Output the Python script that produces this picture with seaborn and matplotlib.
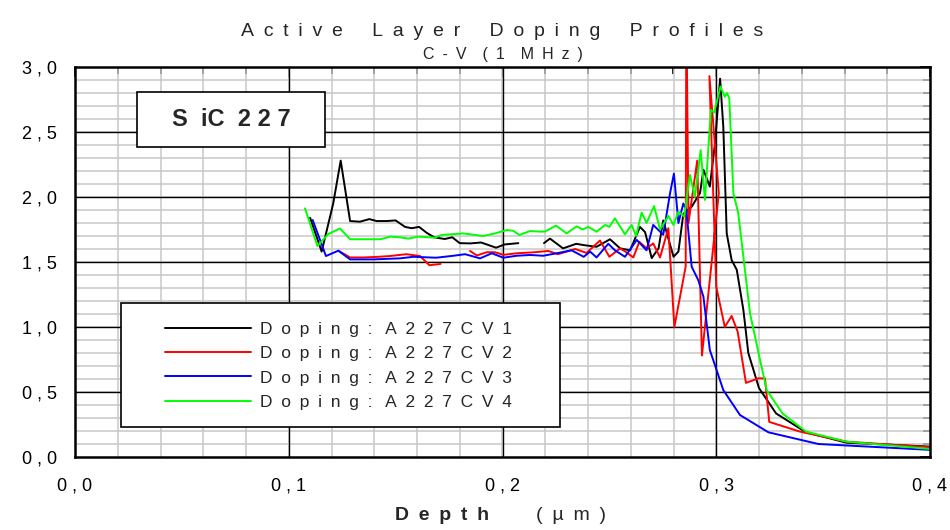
import numpy as np
import pandas as pd
import matplotlib
matplotlib.use("Agg")
import matplotlib.pyplot as plt
from matplotlib.patches import Rectangle
from matplotlib.lines import Line2D
from matplotlib.ticker import MultipleLocator, FixedLocator, FixedFormatter
import seaborn as sns

# ---- doping profiles: depth (um) and doping (arb. units) ----
depth_cv1 = [0.110, 0.1154, 0.1208, 0.1243, 0.1287, 0.1333, 0.1377, 0.1411, 0.1458, 0.1500,
             0.1544, 0.1575, 0.1610, 0.1645, 0.1680, 0.1730, 0.1765, 0.1800, 0.1850, 0.1900,
             0.1970, 0.2010, 0.2074, np.nan, 0.2194, 0.2222, 0.2283, 0.2310, 0.2345, 0.2380,
             0.2440, 0.2503, 0.2550, 0.2597, 0.2643, 0.2667, 0.2698, 0.2730, 0.2752, 0.2800,
             0.2823, 0.2846, 0.2885, 0.2924, 0.2940, 0.2970, 0.2994, 0.3018, 0.3033, 0.3049,
             0.3072, 0.3096, 0.3127, 0.3150, 0.3200, 0.3280, 0.3420, 0.3610, 0.4000]
doping_cv1 = [1.84, 1.58, 1.95, 2.28, 1.815, 1.81, 1.83, 1.815, 1.815, 1.82,
              1.77, 1.76, 1.77, 1.725, 1.69, 1.677, 1.69, 1.645, 1.643, 1.65,
              1.61, 1.635, 1.645, np.nan, 1.645, 1.68, 1.605, 1.62, 1.64, 1.63,
              1.617, 1.675, 1.605, 1.59, 1.77, 1.73, 1.53, 1.605, 1.82, 1.54,
              1.58, 1.87, 1.925, 2.03, 2.21, 2.08, 2.41, 2.91, 2.54, 1.72,
              1.515, 1.44, 1.13, 0.80, 0.53, 0.335, 0.19, 0.11, 0.08]

depth_cv2 = [0.1232, 0.1287, 0.1350, 0.1420, 0.1474, 0.1550, 0.1614, 0.1658, 0.1710, np.nan,
             0.1848, 0.1880, 0.1926, 0.1965, 0.2004, 0.2066, 0.2150, 0.2214, 0.2260, 0.2340,
             0.2393, 0.2456, 0.2500, 0.2550, 0.2575, 0.2612, 0.2640, 0.2674, 0.2705, 0.2737,
             0.2776, 0.2804, 0.2857, 0.2860, 0.2870, 0.2911, 0.2933, 0.3012, 0.2968, 0.3000,
             0.3040, 0.3072, 0.3100, 0.3139, 0.3197, 0.3228, 0.3248, 0.3392, 0.3610, 0.4000]
doping_cv2 = [1.587, 1.535, 1.535, 1.54, 1.546, 1.56, 1.546, 1.475, 1.485, np.nan,
              1.585, 1.55, 1.575, 1.575, 1.555, 1.567, 1.575, 1.585, 1.56, 1.60,
              1.57, 1.665, 1.54, 1.605, 1.58, 1.535, 1.655, 1.605, 1.643, 1.535,
              1.76, 1.00, 1.465, 3.50, 1.80, 2.28, 0.78, 2.03, 2.93, 1.31,
              1.00, 1.085, 0.965, 0.57, 0.605, 0.605, 0.27, 0.195, 0.118, 0.075]

depth_cv3 = [0.1112, 0.1174, 0.1232, 0.1287, 0.1396, 0.1520, 0.1583, 0.1660, 0.1690, 0.1770,
             0.1825, 0.1895, 0.1950, 0.2004, 0.2066, 0.2129, 0.2190, 0.2253, 0.2323, 0.2380,
             0.2410, 0.2440, 0.2495, 0.2526, 0.2573, 0.2628, 0.2674, 0.2705, 0.2752, 0.2784,
             0.2802, 0.2823, 0.2846, 0.2860, 0.2885, 0.2916, 0.2940, 0.2970, 0.3033, 0.3111,
             0.3244, 0.3478, 0.4000]
doping_cv3 = [1.823, 1.546, 1.587, 1.52, 1.52, 1.528, 1.54, 1.535, 1.533, 1.548,
              1.56, 1.528, 1.567, 1.533, 1.548, 1.554, 1.548, 1.567, 1.59, 1.54,
              1.58, 1.535, 1.64, 1.59, 1.54, 1.67, 1.59, 1.785, 1.71, 2.03,
              2.18, 1.80, 1.95, 1.90, 1.464, 1.36, 1.233, 0.823, 0.515, 0.323,
              0.19, 0.10, 0.055]

depth_cv4 = [0.1076, 0.1134, 0.1185, 0.1240, 0.1287, 0.1380, 0.1430, 0.1474, 0.1520, 0.1560,
             0.1606, 0.1684, 0.1715, 0.1817, 0.1910, 0.1965, 0.2020, 0.2050, 0.2079, 0.2129,
             0.2183, 0.2200, 0.2250, 0.2300, 0.2347, 0.2375, 0.2402, 0.2440, 0.2480, 0.2500,
             0.2526, 0.2573, 0.2604, 0.2625, 0.2651, 0.2674, 0.2709, 0.2737, 0.2776, 0.2800,
             0.2823, 0.2850, 0.2877, 0.2900, 0.2927, 0.2947, 0.2975, 0.2990, 0.3020, 0.3040,
             0.3050, 0.3061, 0.3080, 0.3103, 0.3158, 0.3205, 0.3236, 0.3310, 0.3420, 0.3610,
             0.4000]
doping_cv4 = [1.913, 1.623, 1.715, 1.758, 1.675, 1.675, 1.675, 1.695, 1.69, 1.68,
              1.695, 1.687, 1.708, 1.72, 1.70, 1.72, 1.746, 1.74, 1.708, 1.738,
              1.733, 1.735, 1.78, 1.72, 1.774, 1.75, 1.77, 1.733, 1.785, 1.77,
              1.836, 1.713, 1.785, 1.70, 1.88, 1.80, 1.93, 1.75, 1.854, 1.785,
              1.887, 1.85, 2.17, 2.0, 2.36, 1.977, 2.67, 2.65, 2.85, 2.77,
              2.80, 2.76, 2.03, 1.875, 1.105, 0.746, 0.515, 0.335, 0.195, 0.118,
              0.062]

series_labels = ["Doping: A227CV1", "Doping: A227CV2", "Doping: A227CV3", "Doping: A227CV4"]
series_colors = ["#000000", "#ff0000", "#0000ff", "#00ff00"]

x_ticks = [0.0, 0.1, 0.2, 0.3, 0.4]
x_tick_labels = ["0 , 0", "0 , 1", "0 , 2", "0 , 3", "0 , 4"]
y_ticks = [0.0, 0.5, 1.0, 1.5, 2.0, 2.5, 3.0]
y_tick_labels = ["0 , 0", "0 , 5", "1 , 0", "1 , 5", "2 , 0", "2 , 5", "3 , 0"]

title_text = "Active Layer Doping Profiles"
subtitle_text = "C-V (1 MHz)"
sample_text = "S  iC  2 2 7"
xlabel_bold = "Depth"
xlabel_unit = "(\u00b5m)"

EN = "\u2002"


def spaced(text, word_gap=EN * 3):
    """Letter-spaced text: en spaces between letters, wider gaps between words."""
    return word_gap.join(EN.join(w) for w in text.split(" "))


sns.set_theme(style="white")
plt.rcParams["font.family"] = ["Liberation Sans", "DejaVu Sans"]


def to_frame(depth, doping):
    d = pd.DataFrame({"depth": depth, "doping": doping})
    d["seg"] = d["depth"].isna().cumsum()
    return d.dropna()


fig = plt.figure(figsize=(9.5, 5.3), dpi=100)
ax = fig.add_axes([75 / 950, 73 / 530, 855 / 950, 390 / 530])

series = [(depth_cv1, doping_cv1), (depth_cv2, doping_cv2),
          (depth_cv3, doping_cv3), (depth_cv4, doping_cv4)]
for (dx, dy), col in zip(series, series_colors):
    sns.lineplot(data=to_frame(dx, dy), x="depth", y="doping", units="seg",
                 estimator=None, sort=False, color=col, lw=1.4,
                 ax=ax, zorder=3, legend=False)

ax.set_xlim(0, 0.4)
ax.set_ylim(0, 3.0)

# grid: grey minor, black major
ax.xaxis.set_minor_locator(MultipleLocator(0.02))
ax.yaxis.set_minor_locator(MultipleLocator(0.1))
for v in np.arange(0.02, 0.4, 0.02):
    ax.axvline(v, color="#c8c8c8", lw=1.1, zorder=1)
for v in np.arange(0.1, 3.0, 0.1):
    ax.axhline(v, color="#c8c8c8", lw=1.1, zorder=1)
for v in x_ticks[1:-1]:
    ax.axvline(v, color="#000000", lw=1.0, zorder=2)
for v in y_ticks[1:-1]:
    ax.axhline(v, color="#000000", lw=1.0, zorder=2)

ax.xaxis.set_major_locator(FixedLocator(x_ticks))
ax.xaxis.set_major_formatter(FixedFormatter(x_tick_labels))
ax.yaxis.set_major_locator(FixedLocator(y_ticks))
ax.yaxis.set_major_formatter(FixedFormatter(y_tick_labels))
ax.tick_params(which="both", direction="in", top=True, right=True,
               color="black", width=1.2)
ax.tick_params(which="major", length=7, labelsize=13, colors="black")
ax.tick_params(which="minor", length=5)
ax.tick_params(axis="x", which="major", pad=15)
ax.tick_params(axis="y", which="major", pad=13)
ax.set_xlabel("")
ax.set_ylabel("")
for s in ax.spines.values():
    s.set_color("black")
    s.set_linewidth(1.8)
    s.set_zorder(6)

# legend box
ax.add_patch(Rectangle((0.0538, 0.077), 0.513, 0.318, transform=ax.transAxes,
                       facecolor="white", edgecolor="black", lw=1.2, zorder=4))
handles = [Line2D([], [], color=c, lw=1.4) for c in series_colors]
labels = [spaced(s, word_gap=EN + " ") for s in series_labels]
leg = ax.legend(handles, labels, loc="upper left", bbox_to_anchor=(0.1055, 0.346),
                frameon=False, fontsize=12.5, handlelength=4.95, handletextpad=0.52,
                labelspacing=0.52, borderpad=0, borderaxespad=0)
leg.set_zorder(5)

# sample label box
ax.add_patch(Rectangle((0.0725, 0.795), 0.22, 0.141, transform=ax.transAxes,
                       facecolor="white", edgecolor="black", lw=1.2, zorder=4))
ax.text(0.1825, 0.8655, sample_text, transform=ax.transAxes, ha="center", va="center",
        fontsize=17, fontweight="bold", zorder=5)

# titles and axis label
fig.text(502.5 / 950, 1 - 31 / 530, spaced(title_text), ha="center", va="center", fontsize=14)
fig.text(502.5 / 950, 1 - 54 / 530, spaced(subtitle_text, word_gap=EN * 2), ha="center",
         va="center", fontsize=11.5)
fig.text(442 / 950, 1 - 515 / 530, spaced(xlabel_bold), ha="center", va="center",
         fontsize=14, fontweight="bold")
fig.text(571 / 950, 1 - 515 / 530, spaced(xlabel_unit), ha="center", va="center", fontsize=14)

fig.savefig("out.png", dpi=100, facecolor="white")
